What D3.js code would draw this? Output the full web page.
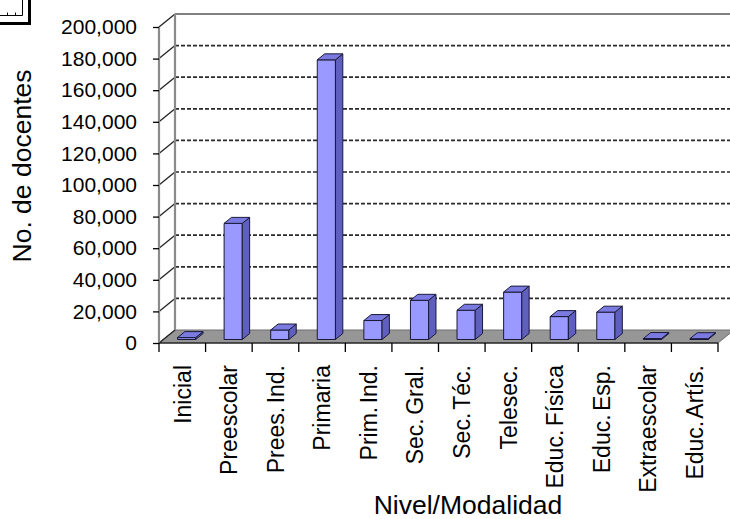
<!DOCTYPE html>
<html><head><meta charset="utf-8">
<script src="https://cdn.jsdelivr.net/npm/d3@7"></script>
<style>
html,body{margin:0;padding:0;background:#fff;}
svg{display:block;font-family:Arial,"Liberation Sans",sans-serif;}
</style></head>
<body>
<svg id="c" width="730" height="519"></svg>
<script>
const categories = ["Inicial","Preescolar","Prees. Ind.","Primaria","Prim. Ind.","Sec. Gral.","Sec. Téc.","Telesec.","Educ. Física","Educ. Esp.","Extraescolar","Educ. Artís."];
const docentes = [1200, 73500, 6000, 177000, 12000, 24800, 18500, 30000, 14500, 17300, 600, 500];
const yTicks = [0,20000,40000,60000,80000,100000,120000,140000,160000,180000,200000];
const yTitle = "No. de docentes";
const xTitle = "Nivel/Modalidad";

const svg = d3.select("#c");
const DX = 16, DY = 13;          // 3D depth offset
const d0 = 0.27, d1 = 0.73;      // bar depth range
const x = d3.scaleBand().domain(categories).range([159, 718]);
const y = d3.scaleLinear().domain([0, 200000]).range([343, 27]);
const P = (px, v, d) => [px + d*DX, y(v) - d*DY];
const poly = pts => "M" + pts.map(p => p.join(",")).join("L") + "Z";

svg.append("defs").append("clipPath").attr("id","cl")
  .append("rect").attr("x",0).attr("y",0).attr("width",730).attr("height",519);
const g = svg.append("g").attr("clip-path","url(#cl)");

// top-left clipped box
g.append("rect").attr("x",-3).attr("y",-3).attr("width",32.5).attr("height",26.5)
  .attr("fill","#fff").attr("stroke","#000").attr("stroke-width",3);
g.append("path").attr("d","M0,15.5H22.5V0M7.5,15.5V12.5M15.5,15.5V12.5")
  .attr("fill","none").attr("stroke","#000").attr("stroke-width",1);

const x0 = x.range()[0], x1 = x.range()[1];
// floor
g.append("path").attr("d", poly([P(x0,0,0),P(x1,0,0),P(x1,0,1),P(x0,0,1)]))
  .attr("fill","#969696").attr("stroke","#6e6e6e").attr("stroke-width",1);

// gridlines on back wall (dashed) and left wall (diagonals)
yTicks.filter(v => v > 0 && v < 200000).forEach(v => {
  const a = P(x0, v, 1);
  g.append("line").attr("x1",a[0]).attr("y1",a[1]).attr("x2",760).attr("y2",a[1])
    .attr("stroke","#2a2a2a").attr("stroke-width",1.7).attr("stroke-dasharray","4,2");
});
yTicks.forEach(v => {
  const a = P(x0, v, 0), b = P(x0, v, 1);
  g.append("line").attr("x1",a[0]).attr("y1",a[1]).attr("x2",b[0]).attr("y2",b[1])
    .attr("stroke","#222").attr("stroke-width",1.3);
});
// walls outline
const tl = P(x0,200000,1);
g.append("line").attr("x1",tl[0]).attr("y1",tl[1]).attr("x2",760).attr("y2",tl[1])
  .attr("stroke","#808080").attr("stroke-width",2.2);
[0,1].forEach(d => {
  const a = P(x0,0,d), b = P(x0,200000,d);
  g.append("line").attr("x1",a[0]).attr("y1",a[1]).attr("x2",b[0]).attr("y2",b[1])
    .attr("stroke","#8a8a8a").attr("stroke-width",2.2);
});

// y axis ticks + labels
const yAxis = d3.axisLeft(y).tickValues(yTicks).tickFormat(d3.format(",")).tickSize(6).tickPadding(16);
const ya = g.append("g").attr("transform",`translate(${x0},0)`).call(yAxis);
ya.select(".domain").remove();
ya.selectAll(".tick line").attr("stroke","#000").attr("stroke-width",1.3);
ya.selectAll(".tick text").attr("font-size",21).attr("fill","#000")
  .attr("font-family","Arial, 'Liberation Sans', sans-serif");

// x axis front edge + ticks
g.append("line").attr("x1",x0).attr("y1",y(0)).attr("x2",x1).attr("y2",y(0))
  .attr("stroke","#000").attr("stroke-width",1.2);
const tickXs = categories.map(c => x(c)).concat([x1]);
tickXs.forEach(tx => {
  g.append("line").attr("x1",tx).attr("y1",y(0)).attr("x2",tx).attr("y2",y(0)+9)
    .attr("stroke","#000").attr("stroke-width",1.3);
});

// bars
const bw = x.bandwidth() * 0.39;
categories.forEach((c, i) => {
  const v = docentes[i];
  const xl = x(c) + x.bandwidth()/2 - bw/2, xr = xl + bw;
  const bg = g.append("g").attr("stroke","#1a1a3a").attr("stroke-width",1).attr("stroke-linejoin","round");
  bg.append("path").attr("d", poly([P(xl,0,d0),P(xr,0,d0),P(xr,v,d0),P(xl,v,d0)])).attr("fill","#9999ff");
  bg.append("path").attr("d", poly([P(xr,0,d0),P(xr,0,d1),P(xr,v,d1),P(xr,v,d0)])).attr("fill","#5f5fbf");
  bg.append("path").attr("d", poly([P(xl,v,d0),P(xr,v,d0),P(xr,v,d1),P(xl,v,d1)])).attr("fill","#7a7ae0");
});

// category labels
categories.forEach(c => {
  const cx = x(c) + x.bandwidth()/2;
  g.append("text").attr("transform",`translate(${cx},365) rotate(-90)`)
    .attr("text-anchor","end").attr("dy","0.36em").attr("font-size",23).attr("fill","#000")
    .attr("word-spacing", -3)
    .text(c);
});

// titles
g.append("text").attr("x",468).attr("y",514).attr("text-anchor","middle")
  .attr("font-size",26.5).attr("fill","#000").text(xTitle);
g.append("text").attr("transform","translate(31,166) rotate(-90)").attr("text-anchor","middle")
  .attr("font-size",26.5).attr("fill","#000").text(yTitle);
</script>
</body></html>
